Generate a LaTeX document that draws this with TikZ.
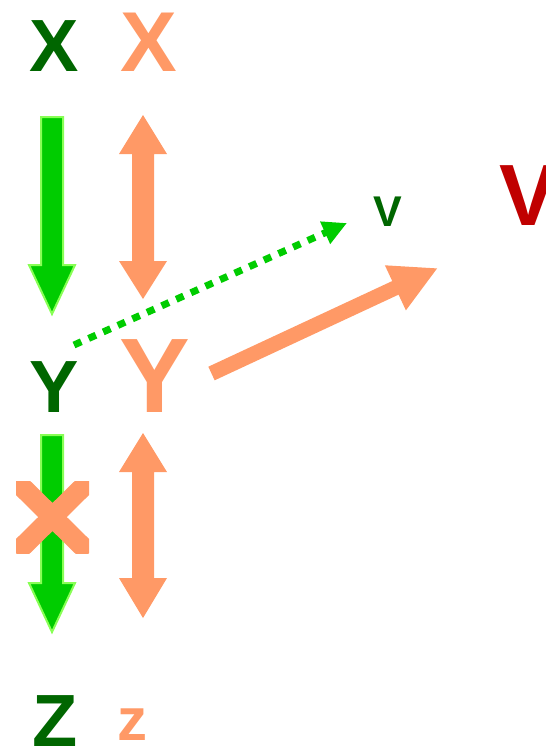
\documentclass[tikz,border=0pt]{standalone}
\usepackage{fontspec}
\setmainfont{Liberation Sans}
\usetikzlibrary{arrows.meta}
\definecolor{dkgreen}{HTML}{006600}
\definecolor{orng}{HTML}{FF9966}
\definecolor{brgreen}{HTML}{00CC00}
\definecolor{ltgreen}{HTML}{88FF55}
\definecolor{dkred}{HTML}{C00000}
\begin{document}
\begin{tikzpicture}[x=1pt,y=-1pt,
  lbl/.style={inner sep=0pt,outer sep=0pt},
  gfat/.style={fill=brgreen,draw=ltgreen,line width=2pt,line join=miter},
  ofat/.style={fill=orng}]
\useasboundingbox (0,0) rectangle (546,750);
% letters
\node[lbl,text=dkgreen,font=\fontsize{74}{74}\selectfont\bfseries] (gX) at (54.5,46.5) {X};
\node[lbl,text=orng,font=\fontsize{85}{85}\selectfont\bfseries] (oX) at (149,42.5) {X};
\node[lbl,text=dkgreen,font=\fontsize{74}{74}\selectfont\bfseries] (gY) at (54.5,387.5) {Y};
\node[lbl,text=orng,font=\fontsize{106}{106}\selectfont\bfseries] (oY) at (154.5,376) {Y};
\node[lbl,text=dkgreen,font=\fontsize{74}{74}\selectfont\bfseries] (gZ) at (55,721) {Z};
\node[lbl,text=orng,font=\fontsize{60}{60}\selectfont\bfseries] (oz) at (132.5,725) {z};
\node[lbl,text=dkgreen,font=\fontsize{43}{43}\selectfont\bfseries] (gV) at (387.5,211.5) {V};
\node[lbl,text=dkred,font=\fontsize{87}{87}\selectfont\bfseries] (rV) at (529,196) {V};
% fat green arrows
\path[gfat] (41,117) -- (63,117) -- (63,265) -- (75,265) -- (52,314) -- (29,265) -- (41,265) -- cycle;
\path[gfat] (41,435) -- (63,435) -- (63,583) -- (75,583) -- (52,632) -- (29,583) -- (41,583) -- cycle;
% fat orange double arrows
\path[ofat] (143,115) -- (167,154) -- (154,154) -- (154,261) -- (167,261) -- (143,299)
  -- (119,261) -- (132,261) -- (132,154) -- (119,154) -- cycle;
\path[ofat] (143,433) -- (167,472) -- (154,472) -- (154,578) -- (167,578) -- (143,618)
  -- (119,578) -- (132,578) -- (132,472) -- (119,472) -- cycle;
% orange cross
\begin{scope}
  \clip (16,481) rectangle (89,553);
  \draw[orng,line width=20pt] (16,481) -- (89,553) (89,481) -- (16,553);
\end{scope}
% dotted arrow
\coordinate (dS) at (74,345);
\coordinate (dE) at (347,223);
\draw[brgreen,line width=7pt,dash pattern=on 8pt off 8pt,
  -{Triangle[length=24pt,width=23pt]}] (dS) -- (dE);
% orange arrow
\coordinate (oS) at (211.5,373.5);
\coordinate (oE) at (438,268);
\draw[orng,line width=15pt,-{Triangle[length=47pt,width=46pt]}] (oS) -- (oE);
\end{tikzpicture}
\end{document}
